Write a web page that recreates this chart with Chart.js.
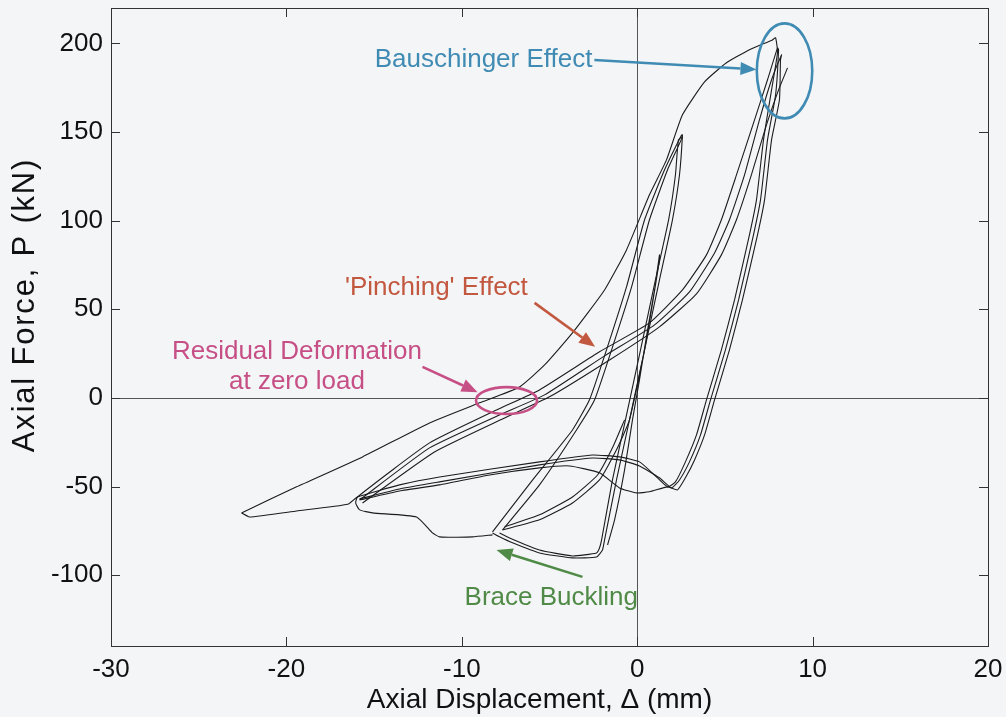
<!DOCTYPE html>
<html>
<head>
<meta charset="utf-8">
<script src="https://cdn.jsdelivr.net/npm/chart.js@4.4.1/dist/chart.umd.min.js"></script>
<style>
  html, body { margin: 0; padding: 0; background: #f4f5f7; }
  #wrap { width: 1006px; height: 717px; }
</style>
</head>
<body>
<div id="wrap"><canvas id="myChart" width="1006" height="717"></canvas></div>
<script>
// axis ticks
const xTicks = [-30, -20, -10, 0, 10, 20];
const yTicks = [-100, -50, 0, 50, 100, 150, 200];

// outer cycle (-22.6 mm compression, 7.9 mm tension)
const outerRise = [[-22.56,-64.9],[-19.42,-50.2],[-15.66,-33.3],[-11.84,-14.1],[-8.99,-2.8],[-6.71,6.2],[-5.28,18.6],[-3.69,36.7],[-1.86,60.9],[-0.61,83.5],[0.70,114.6],[1.67,134.3],[2.58,159.7],[3.84,178.3],[5.09,189.1],[6.40,196.4],[7.71,202.0],[7.89,203.2]];
const outerFall = [[8.00,195.0],[7.66,173.8],[7.20,145.6],[6.80,111.7],[6.40,92.0],[5.55,55.3],[4.80,27.1],[3.95,-1.1],[3.38,-20.9],[2.75,-36.1],[2.18,-47.4],[1.73,-50.2]];
const outerComp = [[0.99,-43.5],[0.13,-36.1],[-1.01,-33.3],[-2.55,-32.2],[-5.57,-36.1],[-11.27,-44.6],[-13.55,-49.1],[-15.95,-55.9]];
const outerTail = [[-16.5,-60.0],[-19.42,-63.8],[-22.10,-67.2],[-22.56,-64.9]];

// post-buckling path from -8 mm to -16 mm
const buckleLeft = [[-8.25,-77.3],[-9.39,-78.4],[-11.27,-78.4],[-11.67,-76.2],[-12.58,-67.2],[-15.09,-64.9],[-15.83,-63.2],[-16.05,-59.3]];

// reloading from -16 mm up to ~8 mm
const riseA = [[-15.95,-55.9],[-11.84,-25.4],[-8.02,-6.8],[-5.57,4.5],[-2.15,26.0],[0.70,42.3],[2.58,60.9],[3.95,80.7],[4.80,100.5],[5.66,125.8],[6.69,156.9],[7.43,179.5],[8.00,197.5]];
const riseB = [[-15.83,-57.6],[-11.84,-28.2],[-7.85,-9.6],[-5.28,1.7],[-1.86,23.7],[0.99,41.2],[2.98,59.8],[4.41,81.8],[5.26,100.5],[6.12,125.8],[6.97,156.9],[7.66,179.5],[8.23,193.6]];
const riseC = [[-15.66,-59.3],[-11.56,-30.5],[-7.56,-11.3],[-5.00,0.6],[-1.58,21.4],[1.27,40.1],[3.38,58.7],[4.80,80.7],[5.66,100.5],[6.51,125.8],[7.37,154.1],[8.06,173.8],[8.57,186.2]];

// unloading from ~8 mm into compression
const fallB = [[8.06,196.4],[7.89,171.0],[7.43,145.6],[7.03,111.7],[6.63,92.0],[5.78,55.3],[5.03,27.1],[4.18,-1.1],[3.61,-20.9],[2.98,-36.1],[2.41,-46.3],[1.96,-50.8]];
const fallC = [[8.17,190.7],[8.11,168.2],[7.66,145.6],[7.26,111.7],[6.86,92.0],[6.00,55.3],[5.26,27.1],[4.41,-1.1],[3.84,-20.9],[3.27,-35.0],[2.75,-45.1],[2.30,-51.9]];

// compression branches back to -16 mm
const compB = [[1.27,-45.1],[0.13,-38.4],[-1.01,-35.0],[-2.55,-33.9],[-5.57,-37.8],[-11.27,-47.4],[-13.55,-51.4],[-15.83,-57.0]];
const compC = [[1.73,-50.2],[0.70,-53.0],[-0.04,-53.6],[-1.01,-50.8],[-2.15,-42.3],[-3.86,-38.4],[-5.57,-39.5],[-8.42,-43.5],[-11.27,-49.1],[-13.55,-52.5],[-15.83,-57.6]];

// cycles to +2.6 mm / -8 mm
const midRiseA = [[-8.25,-75.6],[-5.96,-46.3],[-3.69,-18.1],[-2.72,-1.1],[-1.75,27.1],[-0.61,62.6],[0.42,100.5],[1.56,128.7],[2.53,148.4]];
const midRiseB = [[-7.68,-74.5],[-5.57,-49.1],[-3.46,-18.1],[-2.43,-1.1],[-1.46,27.1],[-0.32,62.6],[0.70,100.5],[1.73,128.7],[2.58,147.3]];
const midFallA = [[2.58,148.4],[2.41,125.8],[2.01,100.5],[1.27,66.6],[0.42,27.1],[-0.44,-12.4],[-1.18,-46.3],[-1.86,-80.1],[-1.98,-85.8]];
const midFallB = [[2.35,145.6],[2.18,125.8],[1.79,100.5],[1.04,66.6],[0.19,27.1],[-0.67,-12.4],[-1.41,-46.3],[-2.03,-80.1],[-2.15,-84.7]];
const buckleA = [[-2.32,-89.8],[-3.69,-90.3],[-5.57,-87.5],[-7.11,-81.8],[-7.85,-78.4],[-8.25,-76.2]];
const buckleB = [[-2.32,-87.5],[-3.69,-89.2],[-5.57,-85.8],[-7.28,-79.0],[-7.85,-76.2]];

// small reload curves and elastic band near the origin
const reloadA = [[-7.68,-74.5],[-5.57,-68.8],[-3.69,-59.3],[-2.15,-46.3],[-1.18,-29.3],[-0.44,-12.4],[0.42,27.1],[1.27,77.9]];
const reloadB = [[-7.56,-72.8],[-5.57,-66.0],[-3.69,-55.9],[-2.26,-43.5],[-1.41,-28.2],[-0.72,-12.4]];
const elastic = [[1.27,80.7],[0.99,60.9],[0.59,38.4],[0.13,10.2],[-0.27,-12.4],[-0.72,-40.6],[-1.29,-68.8],[-1.69,-83.0]];

const paths = [
    outerRise.concat(outerFall, outerComp, outerTail),
    buckleLeft.concat(riseA, fallB, compB),
    riseB.concat(fallC, compC),
    riseC,
    midRiseA.concat(midFallA, buckleA),
    midRiseB.concat(midFallB, buckleB),
    reloadA.concat(elastic),
    reloadB
];

// annotations: text, colour, positions in data units
const notes = [
    { lines: ["Bauschinger Effect"], at: [-8.76, 190.5], color: "#3f8bb3",
      arrow: [[-2.44, 190.7], [6.80, 185.3]], ring: [8.40, 184.5, 1.58, 26.8] },
    { lines: ["'Pinching' Effect"], at: [-11.45, 62.1], color: "#c2583f",
      arrow: [[-5.85, 53.6], [-2.40, 28.8]] },
    { lines: ["Residual Deformation", "at zero load"], at: [-19.4, 26.0], color: "#c64f86",
      arrow: [[-12.24, 17.5], [-9.10, 3.2]], ring: [-7.45, -1.5, 1.74, 7.6] },
    { lines: ["Brace Buckling"], at: [-4.90, -112.9], color: "#4f8a46",
      arrow: [[-3.12, -101.0], [-8.02, -85.8]] }
];

const xTitle = "Axial Displacement, \u0394 (mm)";
const yTitle = "Axial Force, P (kN)";

const FONT = '"Liberation Sans", Arial, sans-serif';

const frame = {
    id: "frame",
    beforeDatasetsDraw(chart) {
        const ctx = chart.ctx;
        const a = chart.chartArea;
        const x = chart.scales.x, y = chart.scales.y;
        ctx.save();
        // zero lines
        ctx.strokeStyle = "#555";
        ctx.lineWidth = 1;
        ctx.beginPath();
        const x0 = Math.round(x.getPixelForValue(0)) + 0.5;
        const y0 = Math.round(y.getPixelForValue(0)) + 0.5;
        ctx.moveTo(x0, a.top); ctx.lineTo(x0, a.bottom);
        ctx.moveTo(a.left, y0); ctx.lineTo(a.right, y0);
        ctx.stroke();
        // box
        ctx.strokeStyle = "#333";
        ctx.strokeRect(a.left + 0.5, a.top + 0.5, a.right - a.left, a.bottom - a.top);
        // inward ticks on all four sides
        const tl = 9;
        ctx.beginPath();
        xTicks.forEach(v => {
            const p = Math.round(x.getPixelForValue(v)) + 0.5;
            ctx.moveTo(p, a.bottom); ctx.lineTo(p, a.bottom - tl);
            ctx.moveTo(p, a.top); ctx.lineTo(p, a.top + tl);
        });
        yTicks.forEach(v => {
            const p = Math.round(y.getPixelForValue(v)) + 0.5;
            ctx.moveTo(a.left, p); ctx.lineTo(a.left + tl, p);
            ctx.moveTo(a.right, p); ctx.lineTo(a.right - tl, p);
        });
        ctx.stroke();
        ctx.restore();
    },
    afterDatasetsDraw(chart) {
        const ctx = chart.ctx;
        const a = chart.chartArea;
        const x = chart.scales.x, y = chart.scales.y;
        ctx.save();
        // axis titles
        ctx.fillStyle = "#111";
        ctx.textAlign = "center";
        ctx.textBaseline = "middle";
        ctx.font = "28px " + FONT;
        ctx.fillText(xTitle, (a.left + a.right) / 2 - 10, 700);
        ctx.save();
        ctx.translate(25, (a.top + a.bottom) / 2 - 22);
        ctx.rotate(-Math.PI / 2);
        ctx.font = "31px " + FONT;
        ctx.letterSpacing = "1.8px";
        ctx.fillText(yTitle, 0, 0);
        ctx.restore();

        ctx.font = "26px " + FONT;
        notes.forEach(n => {
            ctx.fillStyle = n.color;
            ctx.strokeStyle = n.color;
            const tx = x.getPixelForValue(n.at[0]);
            const ty = y.getPixelForValue(n.at[1]);
            n.lines.forEach((t, i) => ctx.fillText(t, tx, ty + i * 30));
            // arrow
            const x1 = x.getPixelForValue(n.arrow[0][0]), y1 = y.getPixelForValue(n.arrow[0][1]);
            const x2 = x.getPixelForValue(n.arrow[1][0]), y2 = y.getPixelForValue(n.arrow[1][1]);
            const ang = Math.atan2(y2 - y1, x2 - x1);
            const hl = 16, hw = 6.5;
            ctx.lineWidth = 2.6;
            ctx.beginPath();
            ctx.moveTo(x1, y1);
            ctx.lineTo(x2 - hl * Math.cos(ang), y2 - hl * Math.sin(ang));
            ctx.stroke();
            ctx.beginPath();
            ctx.moveTo(x2, y2);
            ctx.lineTo(x2 - hl * Math.cos(ang) + hw * Math.sin(ang), y2 - hl * Math.sin(ang) - hw * Math.cos(ang));
            ctx.lineTo(x2 - hl * Math.cos(ang) - hw * Math.sin(ang), y2 - hl * Math.sin(ang) + hw * Math.cos(ang));
            ctx.closePath();
            ctx.fill();
            // ring
            if (n.ring) {
                const cx = x.getPixelForValue(n.ring[0]), cy = y.getPixelForValue(n.ring[1]);
                const rx = Math.abs(x.getPixelForValue(n.ring[0] + n.ring[2]) - cx);
                const ry = Math.abs(y.getPixelForValue(n.ring[1] + n.ring[3]) - cy);
                ctx.lineWidth = 2.6;
                ctx.beginPath();
                ctx.ellipse(cx, cy, rx, ry, 0, 0, Math.PI * 2);
                ctx.stroke();
            }
        });
        ctx.restore();
    }
};

let chart = new Chart("myChart", {
    type: "scatter",
    data: {
        datasets: paths.map(p => ({
            data: p.map(q => ({ x: q[0], y: q[1] })),
            showLine: true,
            pointRadius: 0,
            borderColor: "#1c1c1c",
            borderWidth: 1.1,
            tension: 0.15,
            fill: false
        }))
    },
    options: {
        responsive: false,
        animation: false,
        devicePixelRatio: 1,
        layout: { padding: { top: 8, right: 18, left: 0, bottom: 0 } },
        plugins: { legend: { display: false }, tooltip: { enabled: false } },
        scales: {
            x: {
                type: "linear",
                min: -30,
                max: 20,
                afterBuildTicks: s => { s.ticks = xTicks.map(v => ({ value: v })); },
                afterFit: s => { s.height = 71; s.paddingLeft = 0; s.paddingRight = 0; },
                grid: { display: false, drawTicks: false },
                border: { display: false },
                ticks: { color: "#111", padding: 8, font: { family: FONT, size: 26 } }
            },
            y: {
                type: "linear",
                min: -140,
                max: 220,
                afterBuildTicks: s => { s.ticks = yTicks.map(v => ({ value: v })); },
                afterFit: s => { s.width = 111; s.paddingTop = 0; s.paddingBottom = 0; },
                grid: { display: false, drawTicks: false },
                border: { display: false },
                ticks: { color: "#111", padding: 8, font: { family: FONT, size: 26 } }
            }
        }
    },
    plugins: [frame]
});
</script>
</body>
</html>
